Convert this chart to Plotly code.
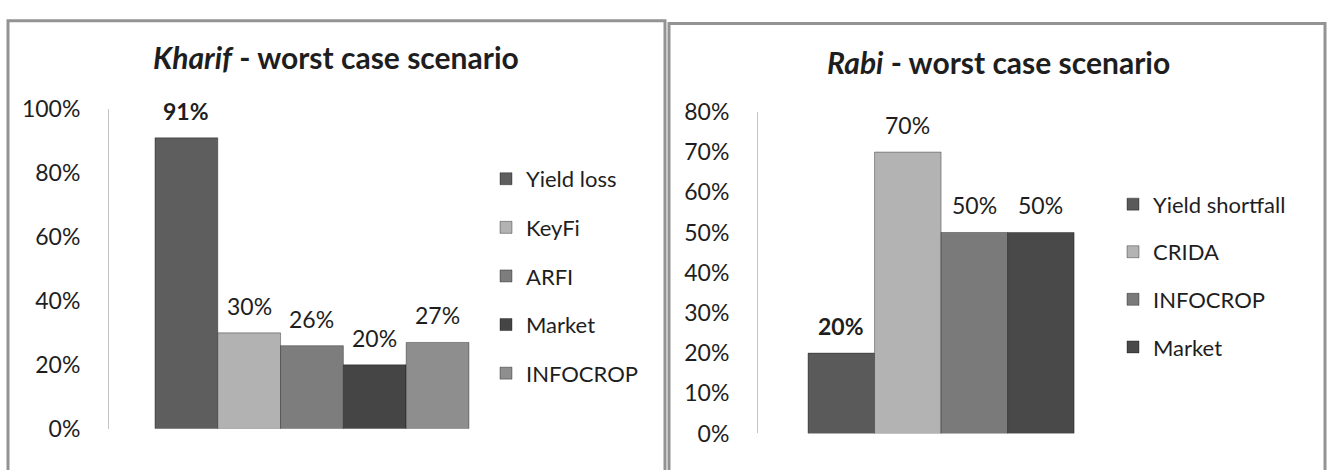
import plotly.graph_objects as go

W, H = 1331, 470

# ---- data ----
kharif_series = ["Yield loss", "KeyFi", "ARFI", "Market", "INFOCROP"]
kharif_values = [0.91, 0.30, 0.26, 0.20, 0.27]
kharif_colors = ["#5e5e5e", "#b2b2b2", "#7d7d7d", "#454545", "#8e8e8e"]

rabi_series = ["Yield shortfall", "CRIDA", "INFOCROP", "Market"]
rabi_values = [0.20, 0.70, 0.50, 0.50]
rabi_colors = ["#5a5a5a", "#b3b3b3", "#7a7a7a", "#494949"]

kharif_ticks = [0, 0.2, 0.4, 0.6, 0.8, 1.0]
rabi_ticks = [0, 0.1, 0.2, 0.3, 0.4, 0.5, 0.6, 0.7, 0.8]

FONT = "Lato"
TXT = "#1e1e1e"

fig = go.Figure()

for name, val, col in zip(kharif_series, kharif_values, kharif_colors):
    fig.add_trace(go.Bar(
        x=[name], y=[val], width=1, name=name, marker_color=col,
        marker_line=dict(color="rgba(0,0,0,0.35)", width=1),
        xaxis="x", yaxis="y", legend="legend", legendgroup="k_" + name,
        hoverinfo="skip"))

for name, val, col in zip(rabi_series, rabi_values, rabi_colors):
    fig.add_trace(go.Bar(
        x=[name], y=[val], width=1, name=name, marker_color=col,
        marker_line=dict(color="rgba(0,0,0,0.35)", width=1),
        xaxis="x2", yaxis="y2", legend="legend2", legendgroup="r_" + name,
        hoverinfo="skip"))

# data labels
for i, (name, val) in enumerate(zip(kharif_series, kharif_values)):
    txt = f"{round(val*100)}%"
    if i == 0:
        txt = f"<b>{txt}</b>"
    fig.add_annotation(x=name, y=val, xref="x", yref="y", text=txt,
                       showarrow=False, yshift=27, xanchor="center", yanchor="middle",
                       font=dict(family=FONT, size=23, color=TXT))
for i, (name, val) in enumerate(zip(rabi_series, rabi_values)):
    txt = f"{round(val*100)}%"
    if i == 0:
        txt = f"<b>{txt}</b>"
    fig.add_annotation(x=name, y=val, xref="x2", yref="y2", text=txt,
                       showarrow=False, yshift=27, xanchor="center", yanchor="middle",
                       font=dict(family=FONT, size=23, color=TXT))

# titles
fig.add_annotation(x=336 / W, y=1 - 45 / H, xref="paper", yref="paper",
                   xanchor="center", yanchor="middle",
                   text="<b><i>Kharif</i> - worst case scenario</b>",
                   showarrow=False, font=dict(family=FONT, size=30, color=TXT))
fig.add_annotation(x=998 / W, y=1 - 50 / H, xref="paper", yref="paper",
                   xanchor="center", yanchor="middle",
                   text="<b><i>Rabi</i> - worst case scenario</b>",
                   showarrow=False, font=dict(family=FONT, size=30, color=TXT))

# panel borders
fig.add_shape(type="rect", xref="paper", yref="paper",
              x0=8 / W, x1=665 / W, y0=-0.1, y1=1 - 6 / H,
              line=dict(color="#939393", width=3), fillcolor="rgba(0,0,0,0)")
fig.add_shape(type="rect", xref="paper", yref="paper",
              x0=669 / W, x1=1325 / W, y0=-0.1, y1=1 - 9 / H,
              line=dict(color="#939393", width=3), fillcolor="rgba(0,0,0,0)")

axis_common = dict(showgrid=False, zeroline=False, showline=False,
                   showticklabels=False, fixedrange=True)
yaxis_common = dict(showgrid=False, zeroline=False, showline=True,
                    linecolor="#c4c4c4", linewidth=1, tickformat=".0%",
                    ticks="", ticklabelstandoff=23, fixedrange=True,
                    tickfont=dict(family=FONT, size=23, color=TXT))

fig.update_layout(
    width=W, height=H,
    margin=dict(l=0, r=0, t=0, b=0),
    paper_bgcolor="white", plot_bgcolor="rgba(0,0,0,0)",
    barmode="overlay",
    font=dict(family=FONT, color=TXT),
    xaxis=dict(domain=[109 / W, 490 / W], range=[-1.232, 4.835],
               anchor="y", **axis_common),
    yaxis=dict(domain=[30 / H, 370 / H], range=[0, 1.0], anchor="x",
               tickvals=kharif_ticks, **yaxis_common),
    xaxis2=dict(domain=[758 / W, 1120 / W], range=[-1.252, 4.19],
                anchor="y2", **axis_common),
    yaxis2=dict(domain=[25 / H, 367 / H], range=[0, 0.8], anchor="x2",
                tickvals=rabi_ticks, **yaxis_common),
    legend=dict(x=486 / W, xanchor="left", y=1 - 152 / H, yanchor="top",
                font=dict(family=FONT, size=22, color=TXT),
                tracegroupgap=17, bgcolor="rgba(0,0,0,0)"),
    legend2=dict(x=1113 / W, xanchor="left", y=1 - 179 / H, yanchor="top",
                 font=dict(family=FONT, size=22, color=TXT),
                 tracegroupgap=16, bgcolor="rgba(0,0,0,0)"),
    showlegend=True,
)

fig.write_html("out.html", config={"displayModeBar": False},
               post_script="document.body.style.margin='0';document.body.style.overflow='hidden';")
